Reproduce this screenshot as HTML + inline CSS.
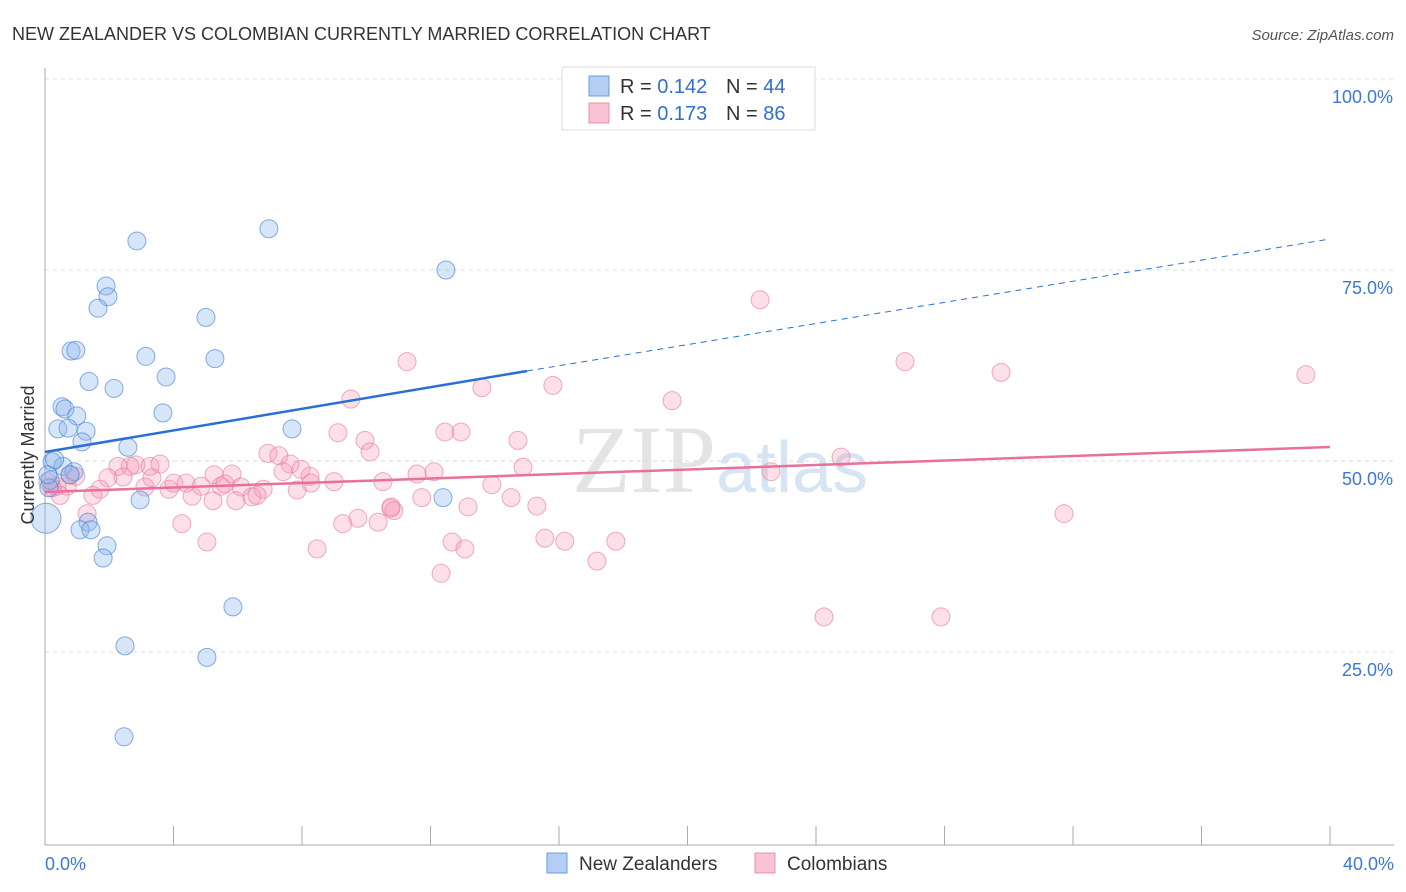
<!DOCTYPE html>
<html><head><meta charset="utf-8">
<style>
body{margin:0;background:#fff;font-family:"Liberation Sans",sans-serif;}
svg{display:block}
</style></head>
<body>
<svg id="chart" width="1406" height="892">
<text x="12" y="40" font-size="18" fill="#333">NEW ZEALANDER VS COLOMBIAN CURRENTLY MARRIED CORRELATION CHART</text>
<text x="1394" y="40" font-size="15" fill="#555" font-style="italic" text-anchor="end">Source: ZipAtlas.com</text>
<text x="720" y="492" font-size="96" fill="#e4e4e4" text-anchor="middle" font-family="Liberation Serif,serif">ZIP<tspan fill="#d6e4f4" font-family="Liberation Sans,sans-serif" font-size="72">atlas</tspan></text>
<g id="grid"></g>
<g id="axes"></g>
<g id="pts"></g>
<g id="trends"></g>
<text x="34" y="455" font-size="18" fill="#333" text-anchor="middle" transform="rotate(-90 34 455)">Currently Married</text>
<g>
<rect x="562" y="67" width="253" height="63" fill="#fff" stroke="#ddd"/>
<rect x="589" y="76" width="20" height="20" fill="#b3cdf3" stroke="#6a9be0"/>
<rect x="589" y="103" width="20" height="20" fill="#f9c3d3" stroke="#e890ab"/>
<text x="620" y="93" font-size="20" fill="#333">R = <tspan fill="#2f6fd0">0.142</tspan></text>
<text x="726" y="93" font-size="20" fill="#333">N = <tspan fill="#2f6fd0">44</tspan></text>
<text x="620" y="120" font-size="20" fill="#333">R = <tspan fill="#2f6fd0">0.173</tspan></text>
<text x="726" y="120" font-size="20" fill="#333">N = <tspan fill="#2f6fd0">86</tspan></text>
</g>
<g>
<rect x="547" y="853" width="20" height="20" fill="#b3cdf3" stroke="#6a9be0"/>
<text x="579" y="870" font-size="19" fill="#333">New Zealanders</text>
<rect x="755" y="853" width="20" height="20" fill="#f9c3d3" stroke="#e890ab"/>
<text x="787" y="870" font-size="19" fill="#333">Colombians</text>
</g>
</svg>
<script>
const yTicks=[25,50,75,100];
const yTickLabels=["25.0%","50.0%","75.0%","100.0%"];
const xTickLabels=["0.0%","40.0%"];
const nzX=[2.86,6.97,12.48,1.90,1.96,1.65,5.01,0.81,0.96,3.14,5.29,3.77,1.37,2.15,0.53,0.62,0.99,3.67,0.40,0.72,1.28,7.69,1.15,2.58,0.22,0.56,0.90,0.16,0.12,2.96,12.39,1.34,1.09,1.43,1.93,1.81,5.85,2.49,5.04,2.46,0.03,0.09,0.78,0.3];
const nzY=[78.8,80.4,75.0,72.9,71.5,70.0,68.8,64.4,64.5,63.7,63.4,61.0,60.4,59.5,57.1,56.8,55.9,56.3,54.2,54.3,53.9,54.2,52.5,51.8,49.9,49.3,48.6,47.5,46.5,44.9,45.2,42.0,41.0,41.0,38.9,37.3,30.9,25.8,24.3,13.9,42.5,48.2,48.2,50.2];
const coX=[22.26,11.27,26.77,29.76,39.25,13.60,15.81,19.52,9.52,9.12,9.96,12.45,12.95,14.72,10.12,6.94,7.28,7.63,7.97,8.25,7.41,5.82,6.10,5.26,14.88,12.11,11.58,10.52,9.00,8.28,7.85,6.79,6.44,6.60,5.94,5.23,4.58,3.86,4.01,4.39,4.86,5.48,5.60,3.11,2.83,3.27,3.58,2.65,2.27,3.33,2.43,1.96,1.71,1.49,0.96,0.69,0.37,0.47,0.22,0.09,0.78,1.31,4.26,5.04,8.47,9.27,9.74,10.37,10.77,10.86,11.73,13.17,13.91,14.51,15.31,15.56,16.18,17.18,17.77,12.67,13.07,12.33,22.60,24.78,24.25,27.89,31.72,10.77];
const coY=[71.1,63.0,63.0,61.6,61.3,59.6,59.9,57.9,58.1,53.7,52.7,53.8,53.8,52.7,51.2,51.0,50.7,49.6,48.9,48.0,48.6,48.3,46.6,48.2,49.2,48.6,48.3,47.3,47.3,47.1,46.2,46.3,45.3,45.5,44.8,44.8,45.4,46.3,47.1,47.1,46.7,46.7,47.0,46.6,49.5,49.3,49.6,49.3,49.3,47.8,47.9,47.8,46.3,45.5,48.0,46.7,46.7,45.5,46.5,47.3,48.2,43.1,41.8,39.4,38.5,41.8,42.5,42.0,43.8,43.5,45.2,44.0,46.9,45.2,44.1,39.9,39.5,36.9,39.5,39.4,38.5,35.3,48.6,50.5,29.6,29.6,43.1,44.0];
const X0=45,X1=1330,Y0=843,Y100=79;
const sx=v=>X0+v/40*(X1-X0);
const sy=v=>Y0-v/100*(Y0-Y100);
const NS="http://www.w3.org/2000/svg";
function mk(p,tag,at){const e=document.createElementNS(NS,tag);for(const k in at)e.setAttribute(k,at[k]);p.appendChild(e);return e;}
const grid=document.getElementById('grid'),axes=document.getElementById('axes'),pts=document.getElementById('pts'),tr=document.getElementById('trends');
yTicks.forEach((t,i)=>{
 const l=mk(grid,'line',{x1:X0,x2:1394,y1:sy(t),y2:sy(t),stroke:'#ddd','stroke-dasharray':'4,4'});
 
 
 const tx=mk(axes,'text',{x:1393,y:sy(t)+24,'font-size':18,fill:'#3b78d8','text-anchor':'end'});
 tx.textContent=yTickLabels[i];
 
 
});
let a=mk(axes,'line',{x1:X0,x2:X0,y1:68,y2:845,stroke:'#aaa'});


a=mk(axes,'line',{x1:X0,x2:1394,y1:845,y2:845,stroke:'#aaa'});


for(let i=0;i<=10;i++){const x=X0+i*(X1-X0)/10;const t=mk(axes,'line',{x1:x,x2:x,y1:826,y2:845,stroke:'#aaa'});
 
 }
[[0,'start',45],[1,'end',1394]].forEach(([i,an,x])=>{const t=mk(axes,'text',{x:x,y:870,'font-size':18,fill:'#3b78d8','text-anchor':an});t.textContent=xTickLabels[i];
 
 });
coX.forEach((v,i)=>{const c=mk(pts,'circle',{cx:sx(v),cy:sy(coY[i]),r:9,fill:'rgba(244,150,180,0.3)',stroke:'rgba(230,120,155,0.6)'});
 
 });
nzX.forEach((v,i)=>{const c=mk(pts,'circle',{cx:sx(v),cy:sy(nzY[i]),r:i==40?15:9,fill:'rgba(140,180,235,0.35)',stroke:'rgba(70,130,215,0.65)'});
 
 });
let t=mk(tr,'line',{x1:X0,y1:452,x2:527,y2:371,stroke:'#2a6fd6','stroke-width':2.5});


t=mk(tr,'line',{x1:527,y1:371,x2:1330,y2:239,stroke:'#2a6fd6','stroke-width':1,'stroke-dasharray':'6,5'});


t=mk(tr,'line',{x1:X0,y1:492,x2:1330,y2:447,stroke:'#e8709a','stroke-width':2.5});


</script>
</body></html>
